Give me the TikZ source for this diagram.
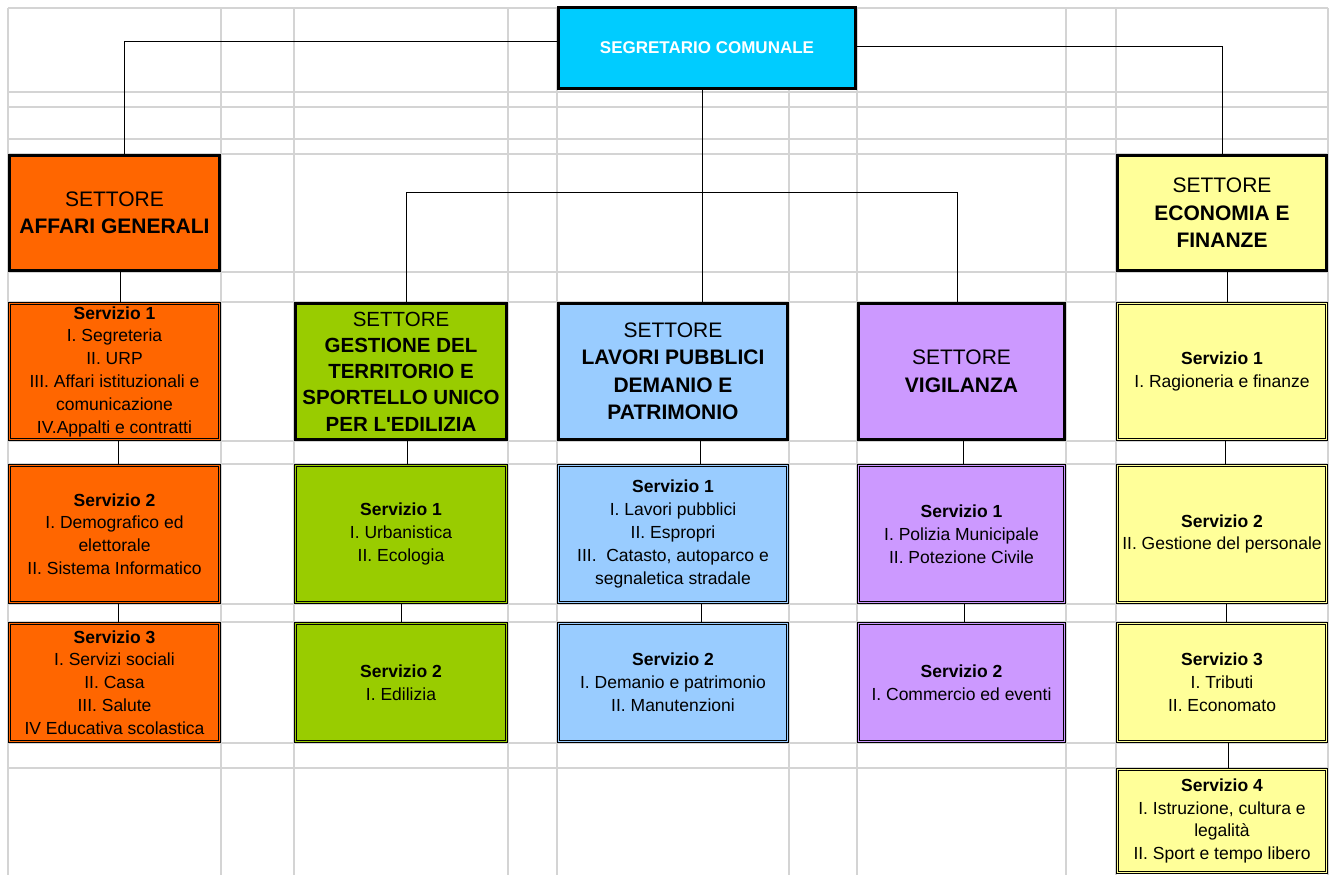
\documentclass[tikz,border=0pt]{standalone}
\usepackage{fontspec}
\setmainfont{Liberation Sans}
\usepackage{xcolor}
\usetikzlibrary{positioning}
\definecolor{ciano}{HTML}{00CCFF}
\definecolor{arancio}{HTML}{FF6600}
\definecolor{verde}{HTML}{99CC00}
\definecolor{azzurro}{HTML}{99CCFF}
\definecolor{viola}{HTML}{CC99FF}
\definecolor{giallo}{HTML}{FFFF99}
\definecolor{griglia}{HTML}{D4D4D4}
\tikzset{cella/.style={inner sep=0pt,align=center,text=black},
  settore/.style={cella,draw=black,line width=3pt,fill=#1,font=\fontsize{21}{27.5}\selectfont},
  servizio/.style={cella,draw=black,line width=1pt,double=#1,double distance=1.1pt,fill=#1,font=\fontsize{17.5}{22.8}\selectfont},
  colA/.style={minimum width=210pt},colB/.style={minimum width=211pt},colC/.style={minimum width=229pt},
  colD/.style={minimum width=206pt},colE/.style={minimum width=209pt},
  riga/.style={minimum height=#1},
  filo/.style={black,line width=0.9pt},
  linea/.style={griglia,line width=1.3pt}}

\begin{document}
\begin{tikzpicture}[x=1pt,y=-1pt]
  \useasboundingbox[fill=white] (0,0) rectangle (1332,875);
  \foreach \x in {8,221,294,508,557,789,857,1066,1116,1328}
    \draw[linea] (\x,8) -- (\x,875);
  \foreach \y in {8,92,107,139,154,272,302,441,464,604,622,743,768}
    \draw[linea] (8,\y) -- (1328,\y);

  \node[settore=ciano,minimum width=297pt,riga=81pt,text=white,font=\fontsize{17}{21}\selectfont\bfseries] (seg) at (707,48) {SEGRETARIO COMUNALE};

  % settori
  \node[settore=arancio,colA,riga=115pt] (ag) at (114.5,213) {SETTORE\\\textbf{AFFARI GENERALI}};
  \node[settore=giallo,colE,riga=115pt] (ef) at (1222,213) {SETTORE\\\textbf{ECONOMIA E}\\\textbf{FINANZE}};
  \node[settore=verde,colB,riga=136pt,font=\fontsize{20.5}{26.3}\selectfont] (gt) at (401,371.5) {SETTORE\\\textbf{GESTIONE DEL}\\\textbf{TERRITORIO E}\\\textbf{SPORTELLO UNICO}\\\textbf{PER L\textquotesingle EDILIZIA}};
  \node[settore=azzurro,colC,riga=136pt] (lp) at (673,371.5) {SETTORE\\\textbf{LAVORI PUBBLICI}\\\textbf{DEMANIO E}\\\textbf{PATRIMONIO}};
  \node[settore=viola,colD,riga=136pt] (vg) at (961.5,371.5) {SETTORE\\\textbf{VIGILANZA}};

  % servizi
  \node[servizio=arancio,colA,riga=136pt] (ag1) at (114.5,371.5) {\textbf{Servizio 1}\\I. Segreteria\\II. URP\\III. Affari istituzionali e\\comunicazione\\IV.Appalti e contratti};
  \node[servizio=arancio,colA,riga=137pt] (ag2) at (114.5,534) {\textbf{Servizio 2}\\I. Demografico ed\\elettorale\\II. Sistema Informatico};
  \node[servizio=arancio,colA,riga=118pt] (ag3) at (114.5,682.5) {\textbf{Servizio 3}\\I. Servizi sociali\\II. Casa\\III. Salute\\IV Educativa scolastica};
  \node[servizio=verde,colB,riga=137pt] (gt1) at (401,534) {\textbf{Servizio 1}\\I. Urbanistica\\II. Ecologia};
  \node[servizio=verde,colB,riga=118pt] (gt2) at (401,682.5) {\textbf{Servizio 2}\\I. Edilizia};
  \node[servizio=azzurro,colC,riga=137pt] (lp1) at (673,534) {\textbf{Servizio 1}\\I. Lavori pubblici\\II. Espropri\\III.\ \ Catasto, autoparco e\\segnaletica stradale};
  \node[servizio=azzurro,colC,riga=118pt] (lp2) at (673,682.5) {\textbf{Servizio 2}\\I. Demanio e patrimonio\\II. Manutenzioni};
  \node[servizio=viola,colD,riga=137pt] (vg1) at (961.5,534) {\textbf{Servizio 1}\\I. Polizia Municipale\\II. Potezione Civile};
  \node[servizio=viola,colD,riga=118pt] (vg2) at (961.5,682.5) {\textbf{Servizio 2}\\I. Commercio ed eventi};
  \node[servizio=giallo,colE,riga=136pt] (ef1) at (1222,371.5) {\textbf{Servizio 1}\\I. Ragioneria e finanze};
  \node[servizio=giallo,colE,riga=137pt] (ef2) at (1222,534) {\textbf{Servizio 2}\\II. Gestione del personale};
  \node[servizio=giallo,colE,riga=118pt] (ef3) at (1222,682.5) {\textbf{Servizio 3}\\I. Tributi\\II. Economato};
  \node[servizio=giallo,colE,riga=103pt] (ef4) at (1222,821) {\textbf{Servizio 4}\\I. Istruzione, cultura e\\legalità\\II. Sport e tempo libero};

  % collegamenti
  \draw[filo] ([yshift=7pt]seg.west) -| ([xshift=10pt]ag.north);
  \draw[filo] ([yshift=2pt]seg.east) -| (ef.north);
  \draw[filo] ([xshift=-5pt]seg.south) -- ([xshift=29pt]lp.north);
  \coordinate (snodo) at (702,192);
  \draw[filo] (snodo) -| ([xshift=5pt]gt.north);
  \draw[filo] (snodo) -| ([xshift=-4pt]vg.north);
  \foreach \a/\b/\s in {ag/ag1/6,ag1/ag2/4,ag2/ag3/3.5,gt/gt1/6,gt1/gt2/0,lp/lp1/27,lp1/lp2/28,
      vg/vg1/1.5,vg1/vg2/2.5,ef/ef1/5,ef1/ef2/3,ef2/ef3/4,ef3/ef4/6}
    \draw[filo] ([xshift=\s pt]\a.south) -- ([xshift=\s pt]\b.north);
\end{tikzpicture}
\end{document}
